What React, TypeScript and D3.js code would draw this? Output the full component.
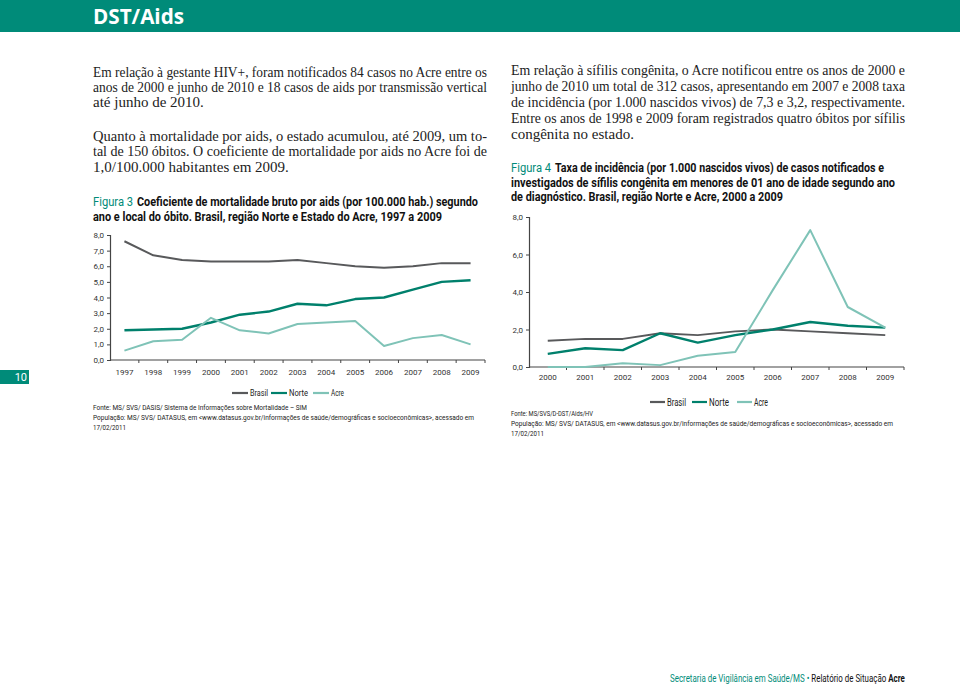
import { useEffect, useRef } from "react";
import * as d3 from "d3";

const years3 = ["1997", "1998", "1999", "2000", "2001", "2002", "2003", "2004", "2005", "2006", "2007", "2008", "2009"];
const brasil3 = [7.6, 6.7, 6.4, 6.3, 6.3, 6.3, 6.4, 6.2, 6.0, 5.9, 6.0, 6.2, 6.2];
const norte3 = [1.9, 1.95, 2.0, 2.4, 2.9, 3.1, 3.6, 3.5, 3.9, 4.0, 4.5, 5.0, 5.1];
const acre3 = [0.6, 1.2, 1.3, 2.7, 1.9, 1.7, 2.3, 2.4, 2.5, 0.9, 1.4, 1.6, 1.0];
const yTicks3 = [0, 1, 2, 3, 4, 5, 6, 7, 8];

const years4 = ["2000", "2001", "2002", "2003", "2004", "2005", "2006", "2007", "2008", "2009"];
const brasil4 = [1.4, 1.5, 1.5, 1.8, 1.7, 1.9, 2.0, 1.9, 1.8, 1.7];
const norte4 = [0.7, 1.0, 0.9, 1.8, 1.3, 1.7, 2.0, 2.4, 2.2, 2.1];
const acre4 = [0.0, 0.0, 0.2, 0.1, 0.6, 0.8, 4.1, 7.3, 3.2, 2.1];
const yTicks4 = [0, 2, 4, 6, 8];

const seriesNames = ["Brasil", "Norte", "Acre"];
const seriesColors = ["#58595b", "#00806c", "#7fc3b7"];
const seriesWidths = [2, 2.4, 2];

const TEAL = "#008b79";
const SERIF = "'Liberation Serif', 'DejaVu Serif', serif";
const SANS = "'Liberation Sans Narrow', 'Roboto', 'Liberation Sans', sans-serif";

type Sel = d3.Selection<SVGSVGElement, unknown, null, undefined>;

function drawChart(
  svg: Sel,
  opts: {
    years: string[];
    series: number[][];
    ticks: number[];
    left: number;
    right: number;
    top: number;
    bottom: number;
    labelY: number;
  }
) {
  const x = d3.scaleBand<string>().domain(opts.years).range([opts.left, opts.right]);
  const y = d3.scaleLinear().domain([0, 8]).range([opts.bottom, opts.top]);
  const g = svg.append("g");

  // eixo Y
  const ya = g
    .append("g")
    .attr("transform", `translate(${opts.left},0)`)
    .call(
      d3.axisLeft(y).tickValues(opts.ticks).tickSize(3).tickPadding(3)
        .tickFormat((d) => d3.format(".1f")(d as number).replace(".", ","))
    );
  ya.select(".domain").attr("stroke", "#444").attr("stroke-width", 1.2);
  ya.selectAll(".tick line").attr("stroke", "#444");
  ya.selectAll("text").attr("font-family", SANS).attr("font-size", 8).attr("fill", "#333");

  // eixo X
  const xa = g.append("g").attr("transform", `translate(0,${opts.bottom})`);
  xa.append("line")
    .attr("x1", opts.left).attr("x2", opts.right)
    .attr("stroke", "#444").attr("stroke-width", 1.2);
  const bounds = opts.years.map((yr) => x(yr)!).concat([opts.right]);
  xa.selectAll("line.tk")
    .data(bounds.slice(1))
    .join("line")
    .attr("class", "tk")
    .attr("x1", (d) => d).attr("x2", (d) => d)
    .attr("y1", 0).attr("y2", 3)
    .attr("stroke", "#444");
  xa.selectAll("text")
    .data(opts.years)
    .join("text")
    .attr("x", (d) => x(d)! + x.bandwidth() / 2)
    .attr("y", opts.labelY - opts.bottom)
    .attr("text-anchor", "middle")
    .attr("font-family", SANS)
    .attr("font-size", 8)
    .attr("fill", "#333")
    .text((d) => d);

  const line = d3
    .line<number>()
    .x((_, i) => x(opts.years[i])! + x.bandwidth() / 2)
    .y((d) => y(d));

  opts.series.forEach((s, i) => {
    g.append("path")
      .attr("d", line(s)!)
      .attr("fill", "none")
      .attr("stroke", seriesColors[i])
      .attr("stroke-width", seriesWidths[i])
      .attr("stroke-linejoin", "round");
  });
}

function drawLegend(svg: Sel, xs: number[], widths: number[], cy: number, seg: number, fs: number) {
  const g = svg.append("g");
  seriesNames.forEach((name, i) => {
    g.append("line")
      .attr("x1", xs[i]).attr("x2", xs[i] + seg)
      .attr("y1", cy).attr("y2", cy)
      .attr("stroke", seriesColors[i]).attr("stroke-width", 2.2);
    g.append("text")
      .attr("x", xs[i] + seg + 2)
      .attr("y", cy + fs * 0.35)
      .attr("font-family", SANS)
      .attr("font-size", fs)
      .attr("fill", "#222")
      .attr("textLength", widths[i])
      .attr("lengthAdjust", "spacingAndGlyphs")
      .text(name);
  });
}

type Line = { t: string; x: number; y: number; w?: number };

function addLines(svg: Sel, lines: Line[], family: string, size: number, fill: string, weight = "normal") {
  lines.forEach((l) => {
    const t = svg
      .append("text")
      .attr("x", l.x)
      .attr("y", l.y)
      .attr("font-family", family)
      .attr("font-size", size)
      .attr("font-weight", weight)
      .attr("fill", fill)
      .text(l.t);
    if (l.w) t.attr("textLength", l.w).attr("lengthAdjust", "spacingAndGlyphs");
  });
}

export default function App() {
  const ref = useRef<SVGSVGElement | null>(null);

  useEffect(() => {
    if (!ref.current) return;
    const svg = d3.select(ref.current);
    svg.selectAll("*").remove();

    // cabeçalho
    svg.append("rect").attr("x", 0).attr("y", 0).attr("width", 960).attr("height", 32).attr("fill", TEAL);
    svg.append("text")
      .attr("x", 93).attr("y", 24)
      .attr("font-family", "'Open Sans', 'DejaVu Sans', sans-serif")
      .attr("font-weight", "bold")
      .attr("font-size", 22)
      .attr("fill", "#fff")
      .attr("textLength", 91)
      .attr("lengthAdjust", "spacingAndGlyphs")
      .text("DST/Aids");

    // texto coluna esquerda
    addLines(svg, [
      { t: "Em relação à gestante HIV+, foram notificados 84 casos no Acre entre os", x: 93, y: 77, w: 394 },
      { t: "anos de 2000 e junho de 2010 e 18 casos de aids por transmissão vertical", x: 93, y: 92, w: 394 },
      { t: "até junho de 2010.", x: 93, y: 107 },
      { t: "Quanto à mortalidade por aids, o estado acumulou, até 2009, um to-", x: 93, y: 141, w: 394 },
      { t: "tal de 150 óbitos. O coeficiente de mortalidade por aids no Acre foi de", x: 93, y: 156, w: 394 },
      { t: "1,0/100.000 habitantes em 2009.", x: 93, y: 172 },
    ], SERIF, 15, "#222");

    // texto coluna direita
    addLines(svg, [
      { t: "Em relação à sífilis congênita, o Acre notificou entre os anos de 2000 e", x: 511, y: 75, w: 394 },
      { t: "junho de 2010 um total de 312 casos, apresentando em 2007 e 2008 taxa", x: 511, y: 91, w: 394 },
      { t: "de incidência (por 1.000 nascidos vivos) de 7,3 e 3,2, respectivamente.", x: 511, y: 107, w: 394 },
      { t: "Entre os anos de 1998 e 2009 foram registrados quatro óbitos por sífilis", x: 511, y: 123, w: 394 },
      { t: "congênita no estado.", x: 511, y: 139 },
    ], SERIF, 15, "#222");

    // legendas das figuras
    addLines(svg, [
      { t: "Figura 3", x: 93, y: 206, w: 40 },
      { t: "Figura 4", x: 511, y: 172, w: 40 },
    ], SANS, 12, TEAL);
    addLines(svg, [
      { t: "Coeficiente de mortalidade bruto por aids (por 100.000 hab.) segundo", x: 137, y: 206, w: 341 },
      { t: "ano e local do óbito. Brasil, região Norte e Estado do Acre, 1997 a 2009", x: 93, y: 221, w: 349 },
      { t: "Taxa de incidência (por 1.000 nascidos vivos) de casos notificados e", x: 555, y: 172, w: 329 },
      { t: "investigados de sífilis congênita em menores de 01 ano de idade segundo ano", x: 511, y: 187, w: 384 },
      { t: "de diagnóstico. Brasil, região Norte e Acre, 2000 a 2009", x: 511, y: 201, w: 272 },
    ], SANS, 12, "#111", "bold");

    drawChart(svg, {
      years: years3,
      series: [brasil3, norte3, acre3],
      ticks: yTicks3,
      left: 110, right: 485, top: 235, bottom: 360, labelY: 375,
    });
    drawChart(svg, {
      years: years4,
      series: [brasil4, norte4, acre4],
      ticks: yTicks4,
      left: 529, right: 904, top: 217, bottom: 367, labelY: 380,
    });

    drawLegend(svg, [232, 271, 313], [18, 19, 13], 393, 16, 8.5);
    drawLegend(svg, [650, 692, 737], [19, 20, 14], 402, 15, 11);

    addLines(svg, [
      { t: "Fonte: MS/ SVS/ DASIS/ Sistema de Informações sobre Mortalidade – SIM", x: 93, y: 410, w: 214 },
      { t: "População: MS/ SVS/ DATASUS, em <www.datasus.gov.br/informações de saúde/demográficas e socioeconômicas>, acessado em", x: 93, y: 420, w: 381 },
      { t: "17/02/2011", x: 93, y: 430, w: 33 },
      { t: "Fonte: MS/SVS/D-DST/Aids/HV", x: 511, y: 416, w: 82 },
      { t: "População: MS/ SVS/ DATASUS, em <www.datasus.gov.br/informações de saúde/demográficas e socioeconômicas>, acessado em", x: 511, y: 426, w: 382 },
      { t: "17/02/2011", x: 511, y: 436, w: 33 },
    ], SANS, 7, "#222");

    // número da página
    svg.append("rect").attr("x", 0).attr("y", 370).attr("width", 29).attr("height", 14).attr("fill", TEAL);
    svg.append("text")
      .attr("x", 27).attr("y", 381)
      .attr("text-anchor", "end")
      .attr("font-family", SANS)
      .attr("font-size", 11)
      .attr("fill", "#fff")
      .text("10");

    // rodapé: uma só linha, comprimida na horizontal para caber entre 670 e 905
    const fg = svg.append("g");
    const ft = fg.append("text")
      .attr("x", 0).attr("y", 0)
      .attr("font-family", SANS)
      .attr("font-size", 10.5)
      .attr("fill", "#111");
    ft.append("tspan").attr("fill", TEAL).text("Secretaria de Vigilância em Saúde/MS • ");
    ft.append("tspan").text("Relatório de Situação ");
    ft.append("tspan").attr("font-weight", "bold").text("Acre");
    const natural = (ft.node() as SVGTextElement).getComputedTextLength() || 235;
    fg.attr("transform", `translate(670,682) scale(${235 / natural},1)`);
  }, []);

  return (
    <svg
      ref={(el) => { if (el) ref.current = el; }}
      width={960}
      height={686}
      style={{ position: "absolute", left: 0, top: 0, background: "#fff" }}
    />
  );
}
